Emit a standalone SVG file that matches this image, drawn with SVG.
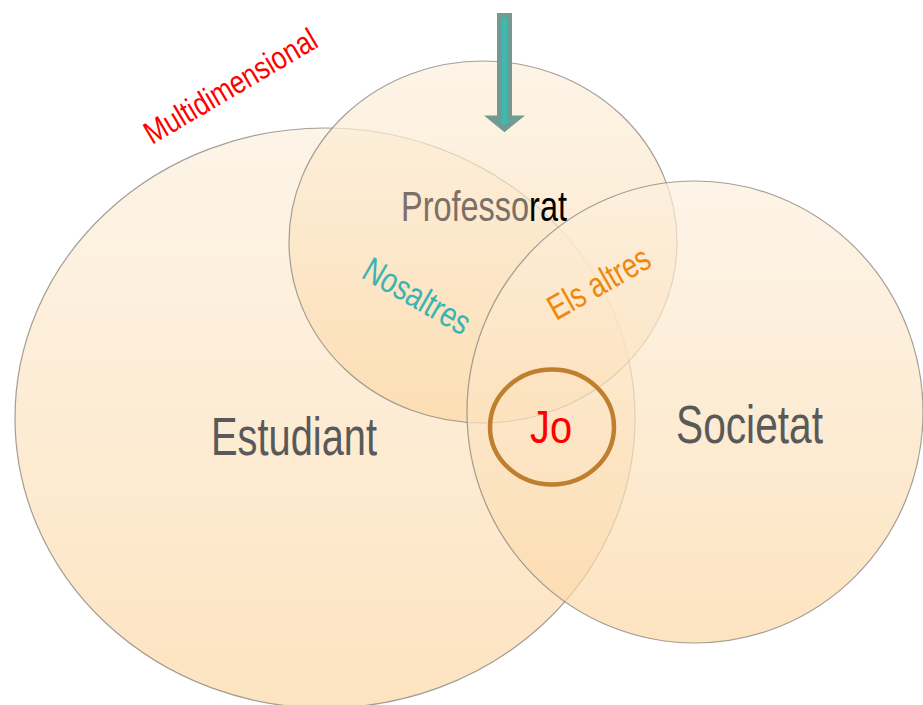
<svg xmlns="http://www.w3.org/2000/svg" width="923" height="705" viewBox="0 0 923 705">
<defs>
<linearGradient id="peach" x1="0" y1="0" x2="0" y2="1">
<stop offset="0" stop-color="rgb(252,240,222)"/>
<stop offset="1" stop-color="rgb(252,216,166)"/>
</linearGradient>
<style>
.set{fill:url(#peach);fill-opacity:0.7;stroke:#85807a;stroke-opacity:0.75;stroke-width:1.2}
.lbl{font-family:"Liberation Sans Narrow","Liberation Sans",Arial,sans-serif}
.big{font-size:53px;fill:#595959}
</style>
</defs>
<rect width="923" height="705" fill="#ffffff"/>
<g id="estudiant">
<ellipse class="set" cx="325" cy="418" rx="310" ry="290"/>
<text class="lbl big" x="211" y="455" textLength="166" lengthAdjust="spacingAndGlyphs">Estudiant</text>
</g>
<g id="professorat">
<ellipse class="set" cx="483" cy="242" rx="194" ry="181"/>
<text class="lbl" x="401" y="221" font-size="43" textLength="166" lengthAdjust="spacingAndGlyphs"><tspan fill="#7a7067">Professo</tspan><tspan fill="#000000">rat</tspan></text>
</g>
<g id="societat">
<ellipse class="set" cx="695" cy="412" rx="228" ry="231"/>
<text class="lbl big" x="676" y="443" textLength="147" lengthAdjust="spacingAndGlyphs">Societat</text>
</g>
<g id="nosaltres">
<text class="lbl" x="360" y="277" font-size="35" fill="#3bb3b0" textLength="118" lengthAdjust="spacingAndGlyphs" transform="rotate(30 360 277)">Nosaltres</text>
</g>
<g id="els-altres">
<text class="lbl" x="556" y="321" font-size="35" fill="#ee880c" textLength="112" lengthAdjust="spacingAndGlyphs" transform="rotate(-29.5 556 321)">Els altres</text>
</g>
<g id="jo">
<ellipse cx="552" cy="427" rx="62" ry="57.5" fill="none" stroke="#bf7f2f" stroke-width="4.5"/>
<text class="lbl" x="530" y="443" font-size="47" fill="#ff0000" textLength="42" lengthAdjust="spacingAndGlyphs">Jo</text>
</g>
<g id="multidimensional">
<text class="lbl" x="152" y="145" font-size="32" fill="#ff0000" textLength="195" lengthAdjust="spacingAndGlyphs" transform="rotate(-30.5 152 145)">Multidimensional</text>
</g>
<g id="connectors">
<polygon points="499.5,15.5 509.5,15.5 509.5,118 518,118 504.5,129 491,118 499.5,118" fill="#3fb8b0" stroke="#6f9b93" stroke-width="5" stroke-linejoin="miter"/>
</g>
</svg>
